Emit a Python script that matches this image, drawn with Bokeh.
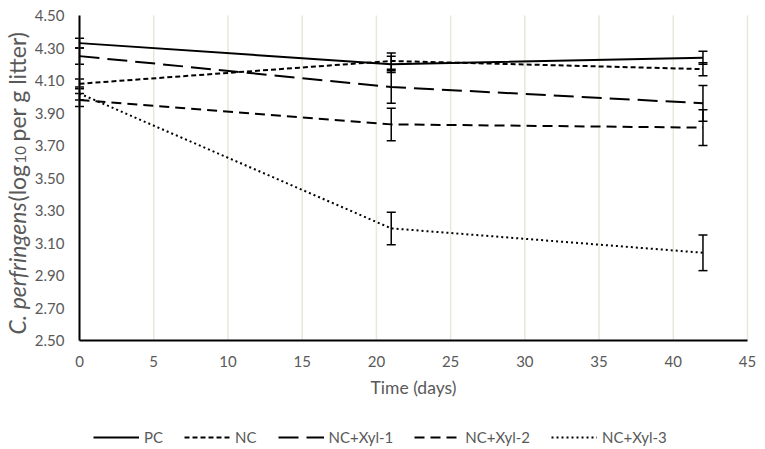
import math
from bokeh.plotting import figure
from bokeh.models import (Range1d, FixedTicker, NumeralTickFormatter, Whisker, TeeHead,
                          ColumnDataSource, Legend, LegendItem, Label)
from bokeh.embed import file_html
from bokeh.resources import INLINE

# ---------------- data ----------------
days = [0, 21, 42]
series_names = ["PC", "NC", "NC+Xyl-1", "NC+Xyl-2", "NC+Xyl-3"]
pc = [4.33, 4.20, 4.24]
pc_err = [0.03, 0.05, 0.04]
nc = [4.08, 4.22, 4.17]
nc_err = [0.03, 0.05, 0.04]
xyl1 = [4.25, 4.06, 3.96]
xyl1_err = [0.05, 0.10, 0.11]
xyl2 = [3.98, 3.83, 3.81]
xyl2_err = [0.04, 0.10, 0.11]
xyl3 = [4.02, 3.19, 3.04]
xyl3_err = [0.04, 0.10, 0.11]
x_ticks = [0, 5, 10, 15, 20, 25, 30, 35, 40, 45]
y_ticks = [2.50, 2.70, 2.90, 3.10, 3.30, 3.50, 3.70, 3.90, 4.10, 4.30, 4.50]
x_title = "Time (days)"
y_title_parts = ["C. perfringens", "(log", "10", "per g litter)"]

values = [pc, nc, xyl1, xyl2, xyl3]
errors = [pc_err, nc_err, xyl1_err, xyl2_err, xyl3_err]
dashes = ["solid", "5 3", "20 8", "10 6", "2 3"]

FONT = "Lato"
GREY = "#595959"
W, H = 765, 449

# plot area (axes box) in canvas pixels
PL, PR, PT, PB = 79, 747, 15, 340
x0, x1 = x_ticks[0], x_ticks[-1]
y0, y1 = y_ticks[0], y_ticks[-1]
kx = (PR - PL) / (x1 - x0)          # px per day
ky = (PB - PT) / (y1 - y0)          # px per log unit


def px_x(px):
    return x0 + (px - PL) / kx


def px_y(py):
    return y1 - (py - PT) / ky


# the frame is the whole canvas; axes are pinned at the plot-area edges
p = figure(width=W, height=H, output_backend="svg", toolbar_location=None,
           x_range=Range1d(px_x(0), px_x(W)), y_range=Range1d(px_y(H), px_y(0)),
           min_border_left=0, min_border_right=0, min_border_top=0, min_border_bottom=0)
p.outline_line_color = None
p.background_fill_color = "white"
p.border_fill_color = "white"
p.grid.visible = False

# vertical gridlines only inside the plot area
p.segment(x0=x_ticks, y0=[y0] * len(x_ticks), x1=x_ticks, y1=[y1] * len(x_ticks),
          line_color="#E9E6DA", line_width=1.5)

for ax in (p.xaxis[0], p.yaxis[0]):
    ax.axis_line_color = "black"
    ax.axis_line_width = 2
    ax.major_tick_out = 0
    ax.major_tick_in = 0
    ax.minor_tick_out = 0
    ax.minor_tick_in = 0
    ax.major_label_text_font = FONT
    ax.major_label_text_font_size = "15px"
    ax.major_label_text_color = GREY
    ax.axis_label_text_font = FONT
    ax.axis_label_text_font_style = "normal"
    ax.axis_label_text_color = GREY
p.xaxis.fixed_location = y0
p.xaxis.bounds = (x0, x1)
p.yaxis.fixed_location = x0
p.yaxis.bounds = (y0, y1)
p.xaxis.ticker = FixedTicker(ticks=x_ticks)
p.yaxis.ticker = FixedTicker(ticks=y_ticks)
p.yaxis.formatter = NumeralTickFormatter(format="0.00")
p.yaxis.major_label_standoff = 15
p.xaxis.major_label_standoff = 15
p.xaxis.axis_label = x_title
p.xaxis.axis_label_text_font_size = "17.5px"
p.xaxis.axis_label_standoff = 7

items = []
for name, vals, dash in zip(series_names, values, dashes):
    r = p.line(days, vals, line_color="black", line_width=2, line_dash=dash)
    items.append(LegendItem(label=name, renderers=[r]))

for vals, errs in zip(values, errors):
    src = ColumnDataSource(dict(x=days,
                                upper=[v + e for v, e in zip(vals, errs)],
                                lower=[v - e for v, e in zip(vals, errs)]))
    p.add_layout(Whisker(base="x", upper="upper", lower="lower", source=src,
                         line_color="black", line_width=1.5,
                         upper_head=TeeHead(size=9, line_width=1.5, line_color="black"),
                         lower_head=TeeHead(size=9, line_width=1.5, line_color="black")))

# y-axis title: italic species name, subscript 10 (read bottom to top)
ang = math.pi / 2
pieces = [(y_title_parts[0], 16, 334, "23px", "italic"),
          (y_title_parts[1], 16, 201, "23px", "normal"),
          (y_title_parts[2], 20, 163, "15px", "normal"),
          (y_title_parts[3], 16, 141, "23px", "normal")]
for txt, bx, by, fs, st in pieces:
    p.add_layout(Label(x=px_x(bx), y=px_y(by), text=txt, angle=ang, text_align="left",
                       text_baseline="alphabetic", text_font=FONT,
                       text_font_style=st, text_font_size=fs, text_color=GREY))

legend = Legend(items=items, orientation="horizontal", location=(93, 3),
                glyph_width=46, glyph_height=18, label_height=18, label_width=0,
                label_standoff=5, spacing=21, padding=0, margin=0,
                label_text_font=FONT, label_text_font_size="15px",
                label_text_color=GREY, border_line_color=None,
                background_fill_alpha=0)
p.add_layout(legend, "center")

open("out.html", "w").write(file_html(p, INLINE))
